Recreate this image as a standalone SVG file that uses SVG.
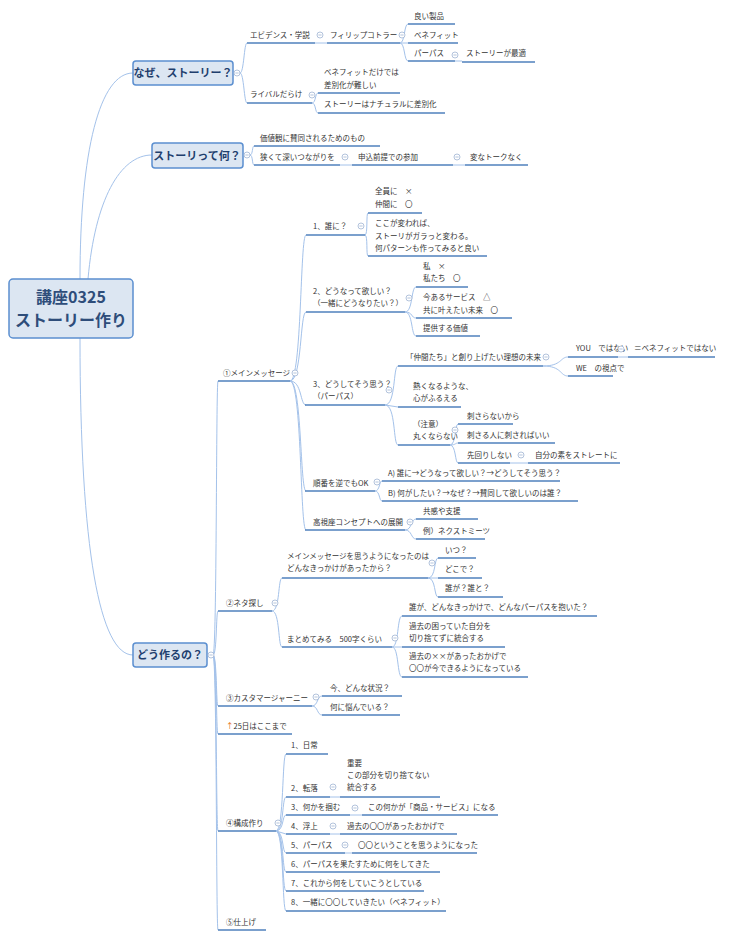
<svg xmlns="http://www.w3.org/2000/svg" xmlns:xlink="http://www.w3.org/1999/xlink" width="751" height="938" viewBox="0 0 751 938">
<style>
text{font-family:"Noto Sans CJK JP","Liberation Sans",sans-serif;font-size:7.5px;fill:#333}
.u{stroke:#4f81bd;stroke-width:1.5;fill:none}
.c{stroke:#a4c2ea;stroke-width:1;fill:none}
.b{fill:#dce6f2;stroke:#5b8fd0;stroke-width:1.5}
.bt{font-size:11px;font-weight:bold;fill:#1f3f6e}
.rt{font-size:16px;font-weight:bold;fill:#2e4d7a}
.k circle{fill:#fff;stroke:#9fb4d3;stroke-width:0.8}
.k line{stroke:#9fb4d3;stroke-width:0.8}
</style>
<defs>
<g id="col" class="k"><circle r="3"/><line x1="-1.6" x2="1.6"/></g>
</defs>
<rect width="751" height="938" fill="#fff"/>
<g id="connectors">
<path class="c" d="M80 279 C80 150 100 73 133 73"/>
<path class="c" d="M88 279 C95 200 120 155 152 155"/>
<path class="c" d="M80 338 C80 550 100 655 133 655"/>
<path class="c" d="M240 73 C244 73 244 43 247 43 M240 73 C244 73 244 103 247 103"/>
<path class="c" d="M315 43 L327 43"/>
<path class="c" d="M400 43 C405 43 404 24 408 24 M400 43 L408 43 M400 43 C405 43 404 61 408 61"/>
<path class="c" d="M455 61 L462 61"/>
<path class="c" d="M312 103 C316 103 315 93 318 93 M312 103 C316 103 315 113 318 113"/>
<path class="c" d="M250 155 C253 155 252 146 254 146 M250 155 C253 155 252 165 254 165"/>
<path class="c" d="M340 165 L352 165 M453 165 L465 165"/>
<path class="c" d="M213 655 C217 655 216 381 218 381 M213 655 C217 655 216 611 218 611 M213 655 C217 655 216 706 218 706 M213 655 C217 655 216 734 218 734 M213 655 C217 655 216 831 218 831 M213 655 C217 655 216 930 218 930"/>
<path class="c" d="M290 381 C302 381 300 235 306 235 M290 381 C302 381 300 312 306 312 M290 381 C302 381 300 405 306 405 M290 381 C302 381 300 491 306 491 M290 381 C302 381 300 530 306 530"/>
<path class="c" d="M365 235 C368 235 366 213 368 213 M365 235 C368 235 366 256 368 256"/>
<path class="c" d="M405 312 C413 312 411 287 416 287 M405 312 C413 312 411 318 416 318 M405 312 C413 312 411 336 416 336"/>
<path class="c" d="M385 405 C396 405 393 366 398 366 M385 405 L398 407 M385 405 C396 405 393 445 398 445"/>
<path class="c" d="M543 366 C562 366 560 357 568 357 M543 366 C562 366 560 376 568 376"/>
<path class="c" d="M618 357 L628 357"/>
<path class="c" d="M450 445 C456 445 455 424 458 424 M450 445 C456 445 455 443 458 443 M450 445 C456 445 455 463 458 463"/>
<path class="c" d="M510 463 L528 463"/>
<path class="c" d="M375 491 C380 491 379 481 382 481 M375 491 C380 491 379 501 382 501"/>
<path class="c" d="M405 530 C412 530 411 519 416 519 M405 530 C412 530 411 539 416 539"/>
<path class="c" d="M272 611 C280 611 278 578 282 578 M272 611 C280 611 278 647 282 647"/>
<path class="c" d="M428 578 C436 578 434 558 438 558 M428 578 L438 578 M428 578 C436 578 434 597 438 597"/>
<path class="c" d="M392 647 C399 647 397 616 402 616 M392 647 L402 647 M392 647 C399 647 397 677 402 677"/>
<path class="c" d="M312 706 C318 706 317 696 322 696 M312 706 C318 706 317 715 322 715"/>
<path class="c" d="M276 831 C284 831 282 754 286 754 M276 831 C284 831 282 797 286 797 M276 831 C284 831 282 815 286 815 M276 831 L286 834 M276 831 C284 831 282 853 286 853 M276 831 C284 831 282 872 286 872 M276 831 C284 831 282 891 286 891 M276 831 C284 831 282 911 286 911"/>
<path class="c" d="M330 797 L340 797 M350 815 L362 815 M330 834 L340 834 M345 853 L352 853"/>
</g>
<g id="root"><rect class="b" x="9" y="279" width="124" height="59" rx="4" stroke-width="2"/>
<text class="rt" x="71" y="303" text-anchor="middle">講座0325</text>
<text class="rt" x="71" y="326" text-anchor="middle">ストーリー作り</text></g>
<g id="naze"><rect class="b" x="133" y="61" width="100" height="24" rx="3"/><text class="bt" x="183" y="77" text-anchor="middle">なぜ、ストーリー？</text><use href="#col" x="237" y="73"/></g>
<g id="nani"><rect class="b" x="152" y="143" width="91" height="25" rx="3"/><text class="bt" x="197" y="160" text-anchor="middle">ストーリって何？</text><use href="#col" x="247" y="155"/></g>
<g id="dou"><rect class="b" x="133" y="643" width="74" height="24" rx="3"/><text class="bt" x="170" y="659" text-anchor="middle">どう作るの？</text><use href="#col" x="211" y="655"/></g>

<g id="n1"><text x="250" y="38">エビデンス・学説</text><path class="u" d="M247 43H315"/><use href="#col" x="320" y="35"/></g>
<g id="n2"><text x="330" y="38">フィリップコトラー</text><path class="u" d="M327 43H400"/><use href="#col" x="402" y="35"/></g>
<g id="n3"><text x="414" y="19">良い製品</text><path class="u" d="M408 24H455"/></g>
<g id="n4"><text x="414" y="38">ベネフィット</text><path class="u" d="M408 43H458"/></g>
<g id="n5"><text x="414" y="56">パーパス</text><path class="u" d="M408 61H455"/><use href="#col" x="455" y="55"/></g>
<g id="n6"><text x="466" y="56">ストーリーが最適</text><path class="u" d="M462 62H535"/></g>
<g id="n7"><text x="250" y="97">ライバルだらけ</text><path class="u" d="M247 103H312"/><use href="#col" x="312" y="95"/></g>
<g id="n8"><text x="324" y="75">ベネフィットだけでは</text><text x="324" y="88">差別化が難しい</text><path class="u" d="M318 93H400"/></g>
<g id="n9"><text x="324" y="107">ストーリーはナチュラルに差別化</text><path class="u" d="M318 113H445"/></g>
<g id="n10"><text x="260" y="141">価値観に賛同されるためのもの</text><path class="u" d="M254 146H380"/></g>
<g id="n11"><text x="260" y="160">狭くて深いつながりを</text><path class="u" d="M254 165H340"/><use href="#col" x="345" y="157"/></g>
<g id="n12"><text x="358" y="160">申込前提での参加</text><path class="u" d="M352 165H453"/><use href="#col" x="457" y="157"/></g>
<g id="n13"><text x="470" y="160">変なトークなく</text><path class="u" d="M465 165H528"/></g>

<g id="m1"><text x="223" y="376">①メインメッセージ</text><path class="u" d="M218 381H290"/><use href="#col" x="295" y="373"/></g>
<g id="a1"><text x="313" y="229">1、誰に？</text><path class="u" d="M306 235H365"/><use href="#col" x="361" y="226"/></g>
<g id="a1a"><text x="375" y="194">全員に　×</text><text x="375" y="207">仲間に　〇</text><path class="u" d="M368 213H422"/></g>
<g id="a1b"><text x="375" y="226">ここが変われば、</text><text x="375" y="239">ストーリがガラっと変わる。</text><text x="375" y="251">何パターンも作ってみると良い</text><path class="u" d="M368 256H487"/></g>
<g id="a2"><text x="313" y="294">2、どうなって欲しい？</text><text x="313" y="306">（一緒にどうなりたい？）</text><path class="u" d="M306 312H405"/><use href="#col" x="409" y="298"/></g>
<g id="a2a"><text x="423" y="269">私　×</text><text x="423" y="281">私たち　〇</text><path class="u" d="M416 287H468"/></g>
<g id="a2b"><text x="423" y="300">今あるサービス　△</text><text x="423" y="313">共に叶えたい未来　〇</text><path class="u" d="M416 318H512"/></g>
<g id="a2c"><text x="423" y="331">提供する価値</text><path class="u" d="M416 336H480"/></g>
<g id="a3"><text x="313" y="387">3、どうしてそう思う？</text><text x="313" y="399">（パーパス）</text><path class="u" d="M305 405H385"/><use href="#col" x="389" y="390"/></g>
<g id="a3a"><text x="406" y="360">「仲間たち」と創り上げたい理想の未来</text><path class="u" d="M398 366H543"/><use href="#col" x="546" y="357"/></g>
<g id="a3a1"><text x="576" y="351">YOU　ではない</text><path class="u" d="M568 357H618"/><use href="#col" x="621" y="349"/></g>
<g id="a3a2"><text x="634" y="351">＝ベネフィットではない</text><path class="u" d="M628 357H715"/></g>
<g id="a3a3"><text x="576" y="371">WE　の視点で</text><path class="u" d="M568 376H613"/></g>
<g id="a3b"><text x="413" y="389">熱くなるような、</text><text x="413" y="401">心がふるえる</text><path class="u" d="M398 407H461"/></g>
<g id="a3c"><text x="413" y="427">（注意）</text><text x="413" y="439">丸くならない</text><path class="u" d="M398 445H450"/><use href="#col" x="455" y="430"/></g>
<g id="a3c1"><text x="467" y="419">刺さらないから</text><path class="u" d="M458 424H513"/></g>
<g id="a3c2"><text x="467" y="438">刺さる人に刺さればいい</text><path class="u" d="M458 443H555"/></g>
<g id="a3c3"><text x="467" y="458">先回りしない</text><path class="u" d="M458 463H510"/><use href="#col" x="521" y="455"/></g>
<g id="a3c4"><text x="535" y="458">自分の素をストレートに</text><path class="u" d="M528 463H620"/></g>
<g id="a4"><text x="313" y="486">順番を逆でもOK</text><path class="u" d="M305 491H375"/><use href="#col" x="377" y="482"/></g>
<g id="a4a"><text x="388" y="476">A) 誰に→どうなって欲しい？→どうしてそう思う？</text><path class="u" d="M382 481H560"/></g>
<g id="a4b"><text x="388" y="496">B) 何がしたい？→なぜ？→賛同して欲しいのは誰？</text><path class="u" d="M382 501H578"/></g>
<g id="a5"><text x="313" y="525">高視座コンセプトへの展開</text><path class="u" d="M305 530H405"/><use href="#col" x="410" y="522"/></g>
<g id="a5a"><text x="423" y="514">共感や支援</text><path class="u" d="M416 519H478"/></g>
<g id="a5b"><text x="423" y="534">例）ネクストミーツ</text><path class="u" d="M416 539H485"/></g>

<g id="m2"><text x="226" y="606">②ネタ探し</text><path class="u" d="M218 611H272"/><use href="#col" x="275" y="603"/></g>
<g id="b1"><text x="287" y="559">メインメッセージを思うようになったのは</text><text x="287" y="571">どんなきっかけがあったから？</text><path class="u" d="M282 578H428"/><use href="#col" x="432" y="563"/></g>
<g id="b1a"><text x="445" y="553">いつ？</text><path class="u" d="M438 558H476"/></g>
<g id="b1b"><text x="445" y="572">どこで？</text><path class="u" d="M438 578H482"/></g>
<g id="b1c"><text x="445" y="591">誰が？誰と？</text><path class="u" d="M438 597H503"/></g>
<g id="b2"><text x="287" y="642">まとめてみる　500字くらい</text><path class="u" d="M282 647H392"/><use href="#col" x="395" y="638"/></g>
<g id="b2a"><text x="409" y="610">誰が、どんなきっかけで、どんなパーパスを抱いた？</text><path class="u" d="M402 616H597"/></g>
<g id="b2b"><text x="409" y="629">過去の困っていた自分を</text><text x="409" y="641">切り捨てずに統合する</text><path class="u" d="M402 647H505"/></g>
<g id="b2c"><text x="409" y="659">過去の××があったおかげで</text><text x="409" y="671">〇〇が今できるようになっている</text><path class="u" d="M402 677H528"/></g>

<g id="m3"><text x="226" y="701">③カスタマージャーニー</text><path class="u" d="M218 706H312"/><use href="#col" x="316" y="697"/></g>
<g id="c1"><text x="330" y="691">今、どんな状況？</text><path class="u" d="M322 696H402"/></g>
<g id="c2"><text x="330" y="710">何に悩んでいる？</text><path class="u" d="M322 715H400"/></g>
<g id="m25"><text x="226" y="729"><tspan fill="#e46c0a">↑</tspan>25日はここまで</text><path class="u" d="M218 734H292"/></g>

<g id="m4"><text x="226" y="826">④構成作り</text><path class="u" d="M218 831H276"/><use href="#col" x="278" y="823"/></g>
<g id="d1"><text x="291" y="748">1、日常</text><path class="u" d="M286 754H328"/></g>
<g id="d2"><text x="291" y="791">2、転落</text><path class="u" d="M286 797H330"/><use href="#col" x="333" y="787"/></g>
<g id="d2a"><text x="347" y="766">重要</text><text x="347" y="778">この部分を切り捨てない</text><text x="347" y="790">統合する</text><path class="u" d="M340 797H440"/></g>
<g id="d3"><text x="291" y="810">3、何かを掴む</text><path class="u" d="M286 815H350"/><use href="#col" x="355" y="808"/></g>
<g id="d3a"><text x="368" y="810">この何かが「商品・サービス」になる</text><path class="u" d="M362 815H498"/></g>
<g id="d4"><text x="291" y="829">4、浮上</text><path class="u" d="M286 834H330"/><use href="#col" x="333" y="826"/></g>
<g id="d4a"><text x="347" y="829">過去の〇〇があったおかげで</text><path class="u" d="M340 834H457"/></g>
<g id="d5"><text x="291" y="848">5、パーパス</text><path class="u" d="M286 853H345"/><use href="#col" x="345" y="845"/></g>
<g id="d5a"><text x="358" y="848">〇〇ということを思うようになった</text><path class="u" d="M352 853H477"/></g>
<g id="d6"><text x="291" y="867">6、パーパスを果たすために何をしてきた</text><path class="u" d="M286 872H440"/></g>
<g id="d7"><text x="291" y="886">7、これから何をしていこうとしている</text><path class="u" d="M286 891H424"/></g>
<g id="d8"><text x="291" y="905">8、一緒に〇〇していきたい（ベネフィット）</text><path class="u" d="M286 911H446"/></g>
<g id="m5"><text x="226" y="925">⑤仕上げ</text><path class="u" d="M218 930H266"/></g>
</svg>
